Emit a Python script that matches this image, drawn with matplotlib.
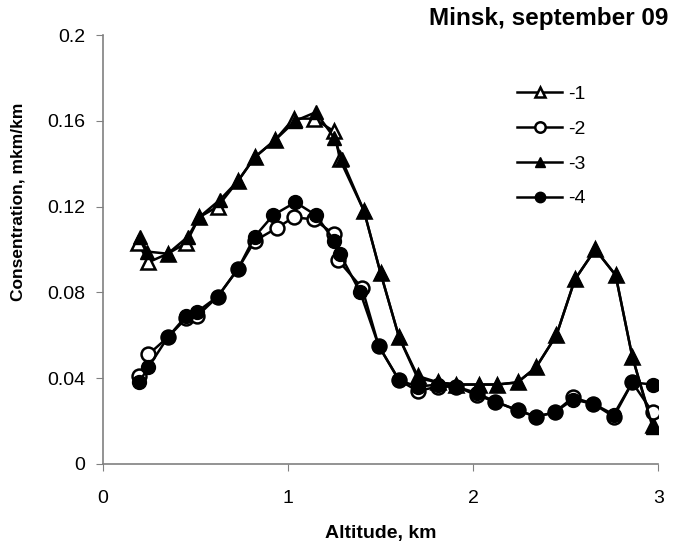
import matplotlib
matplotlib.use("Agg")
import matplotlib.pyplot as plt

plt.rcParams['font.family'] = ['Liberation Sans', 'DejaVu Sans']

# altitude, km
x1 = [0.19, 0.245, 0.35, 0.45, 0.52, 0.62, 0.73, 0.82, 0.93, 1.03, 1.14, 1.25, 1.28, 1.41, 1.50,
      1.60, 1.70, 1.81, 1.91, 2.03, 2.13, 2.24, 2.34, 2.45, 2.55, 2.66, 2.77, 2.86, 2.97]
y1 = [0.103, 0.094, 0.098, 0.103, 0.115, 0.120, 0.132, 0.143, 0.151, 0.161, 0.161, 0.155, 0.142, 0.118, 0.089,
      0.059, 0.041, 0.038, 0.037, 0.037, 0.037, 0.038, 0.045, 0.060, 0.086, 0.100, 0.088, 0.050, 0.018]

x2 = [0.195, 0.245, 0.35, 0.45, 0.51, 0.62, 0.73, 0.82, 0.94, 1.03, 1.14, 1.25, 1.27, 1.40, 1.49,
      1.60, 1.70, 1.81, 1.91, 2.02, 2.12, 2.24, 2.34, 2.44, 2.54, 2.65, 2.76, 2.86, 2.97]
y2 = [0.041, 0.051, 0.059, 0.068, 0.069, 0.078, 0.091, 0.104, 0.110, 0.115, 0.114, 0.107, 0.095, 0.082, 0.055,
      0.039, 0.034, 0.036, 0.036, 0.032, 0.029, 0.025, 0.022, 0.024, 0.031, 0.028, 0.022, 0.038, 0.024]

x3 = [0.20, 0.24, 0.35, 0.46, 0.52, 0.63, 0.73, 0.82, 0.93, 1.04, 1.15, 1.25, 1.29, 1.41, 1.50,
      1.60, 1.70, 1.81, 1.91, 2.03, 2.13, 2.24, 2.34, 2.45, 2.55, 2.66, 2.77, 2.86, 2.97]
y3 = [0.106, 0.099, 0.098, 0.106, 0.115, 0.123, 0.132, 0.143, 0.151, 0.160, 0.164, 0.152, 0.142, 0.118, 0.089,
      0.059, 0.040, 0.038, 0.037, 0.037, 0.037, 0.038, 0.045, 0.060, 0.086, 0.100, 0.088, 0.050, 0.017]

x4 = [0.195, 0.245, 0.35, 0.45, 0.51, 0.62, 0.73, 0.82, 0.92, 1.04, 1.15, 1.25, 1.28, 1.39, 1.49,
      1.60, 1.70, 1.81, 1.91, 2.02, 2.12, 2.24, 2.34, 2.44, 2.54, 2.65, 2.76, 2.86, 2.97]
y4 = [0.038, 0.045, 0.059, 0.069, 0.071, 0.078, 0.091, 0.106, 0.116, 0.122, 0.116, 0.104, 0.098, 0.080, 0.055,
      0.039, 0.036, 0.037, 0.036, 0.033, 0.029, 0.025, 0.022, 0.024, 0.030, 0.028, 0.023, 0.038, 0.037]

labels = ["-1", "-2", "-3", "-4"]
xticks = [0, 1, 2, 3]
yticks = [0, 0.04, 0.08, 0.12, 0.16, 0.2]
ytick_labels = ["0", "0.04", "0.08", "0.12", "0.16", "0.2"]

fig = plt.figure(figsize=(6.73, 5.47), dpi=100)
ax = fig.add_axes([0.153, 0.152, 0.825, 0.784])

ax.plot(x1, y1, color='black', lw=1.8, marker='^', ms=10, mfc='white', mec='black', mew=1.8, label=labels[0])
ax.plot(x2, y2, color='black', lw=1.8, marker='o', ms=10, mfc='white', mec='black', mew=1.8, label=labels[1])
ax.plot(x3, y3, color='black', lw=1.8, marker='^', ms=10, mfc='black', mec='black', label=labels[2])
ax.plot(x4, y4, color='black', lw=1.8, marker='o', ms=10, mfc='black', mec='black', label=labels[3])

ax.set_xlim(0, 3)
ax.set_ylim(0, 0.2)
ax.set_xticks(xticks)
ax.set_yticks(yticks)
ax.set_yticklabels(ytick_labels)
ax.tick_params(labelsize=14, direction='out', length=5, color='#808080')
ax.tick_params(axis='x', pad=14)
ax.tick_params(axis='y', pad=8)

for side in ['top', 'right']:
    ax.spines[side].set_visible(False)
for side in ['left', 'bottom']:
    ax.spines[side].set_color('#808080')
    ax.spines[side].set_linewidth(1.2)

ax.set_xlabel("Altitude, km", fontsize=14, fontweight='bold', labelpad=13)
ax.set_ylabel("Consentration, mkm/km", fontsize=12.5, fontweight='bold')
ax.yaxis.set_label_coords(-0.14, 0.61)

fig.text(0.993, 0.967, "Minsk, september 09", fontsize=17.5, fontweight='bold', ha='right', va='center')

leg = ax.legend(loc='upper left', bbox_to_anchor=(0.746, 0.882), frameon=False, fontsize=14,
                handlelength=2.3, handletextpad=0.3, labelspacing=0.88, borderpad=0, borderaxespad=0,
                markerscale=0.75)

fig.savefig("out.png", dpi=100)
